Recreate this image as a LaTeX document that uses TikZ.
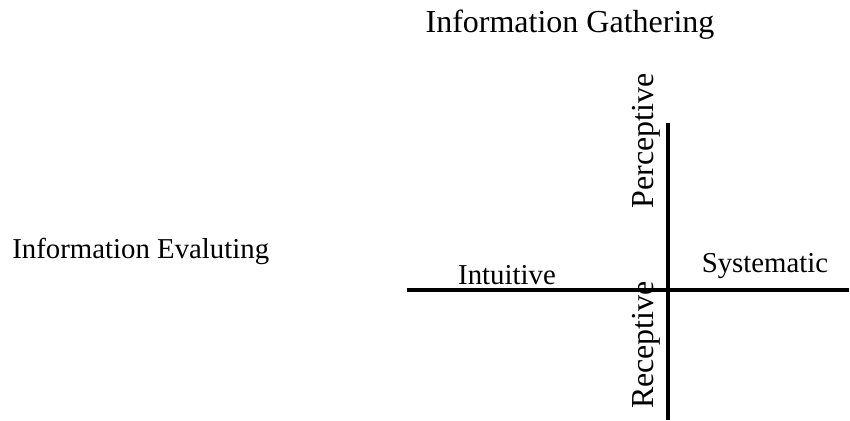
\documentclass[tikz,border=0pt]{standalone}
\usepackage{fontspec}
\setmainfont{Liberation Serif}
\usepackage{tikz}
\usetikzlibrary{positioning}

\tikzset{
    axisline/.style={line width=2pt},
    bigtext/.style={inner sep=0pt, font=\fontsize{16}{19}\selectfont},
    smalltext/.style={inner sep=0pt, font=\fontsize{14.4}{17}\selectfont}
}

\begin{document}
\begin{tikzpicture}[x=0.5pt, y=-0.5pt]
                    \useasboundingbox (0,0) rectangle (850,420);
                    \coordinate (T) at (668,123);
                    \coordinate (B) at (668,420);
                    \coordinate (L) at (407,290);
                    \coordinate (R) at (849,290);
                    \draw[axisline] (L) -- (R);
                    \draw[axisline] (T) -- (B);
                    \node[bigtext, anchor=base] (gather) at (570,32) {Information Gathering};
                    \node[smalltext, anchor=base west] (evaluate) at (12,258) {Information Evaluting};
                    \node[smalltext, anchor=base] (intuitive) at (507,284) {Intuitive};
                    \node[smalltext, anchor=base] (systematic) at (765,272) {Systematic};
                    \node[bigtext, rotate=90, anchor=base] (perceptive) at (653,141) {Perceptive};
                    \node[bigtext, rotate=90, anchor=base] (receptive) at (653,345) {Receptive};
                \end{tikzpicture}
\end{document}
